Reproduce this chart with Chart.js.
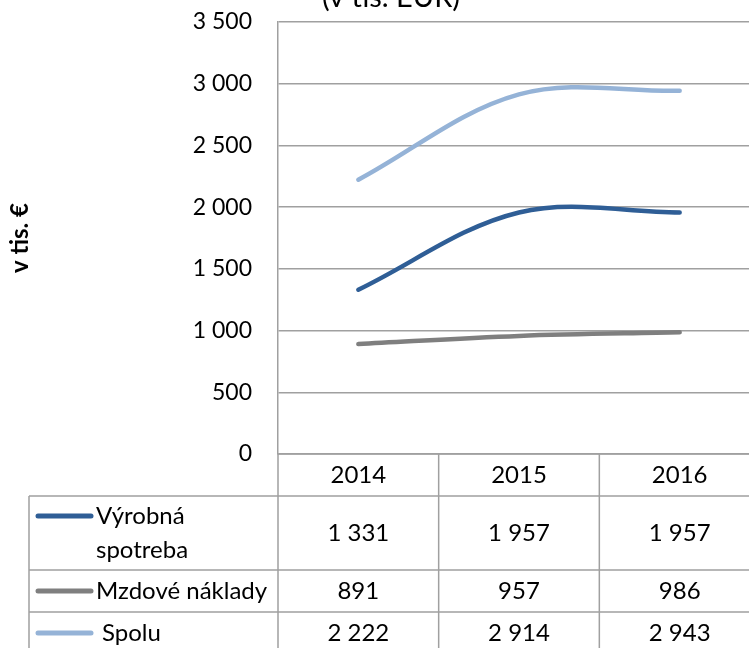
<!DOCTYPE html>
<html>
<head>
<meta charset="utf-8">
<script src="https://cdn.jsdelivr.net/npm/chart.js@4/dist/chart.umd.min.js"></script>
<style>
  body { margin: 0; overflow: hidden; background: #fff; }
  #wrap { position: absolute; left: 0; top: 0; width: 780px; height: 648px; }
</style>
</head>
<body>
<div id="wrap"><canvas id="chart" width="780" height="648"></canvas></div>
<script>
'use strict';
let years = ['2014', '2015', '2016'];
let vyrobnaSpotreba = [1331, 1957, 1957];
let mzdoveNaklady = [891, 957, 986];
let spolu = [2222, 2914, 2943];
let seriesNames = [['Výrobná', 'spotreba'], ['Mzdové náklady'], ['Spolu']];
let seriesColors = ['#2F5E96', '#7F7F7F', '#95B3D7'];
let yTicks = [0, 500, 1000, 1500, 2000, 2500, 3000, 3500];

let font = 'Lato';
let lineGray = '#a0a0a0';

function fmt(n) {
    return String(n).replace(/\B(?=(\d{3})+(?!\d))/g, ' ');
}

// title is cut off at the top of the picture
let topTitle = {
    id: 'topTitle',
    afterDraw(chart) {
        let ctx = chart.ctx;
        ctx.save();
        ctx.fillStyle = '#000';
        ctx.font = '29px ' + font;
        ctx.textAlign = 'center';
        ctx.textBaseline = 'alphabetic';
        ctx.fillText('(v tis. EUR)', 391, 7);
        ctx.restore();
    }
};

// data table under the plot
let dataTable = {
    id: 'dataTable',
    afterDraw(chart) {
        let ctx = chart.ctx;
        let area = chart.chartArea;
        let x = chart.scales.x;
        let half = (area.right - area.left) / years.length / 2;
        let all = [vyrobnaSpotreba, mzdoveNaklady, spolu];
        let rowH = [42, 74, 42, 42];
        let tableLeft = 29;
        let top = area.bottom;
        let rows = [top];
        for (let i = 0; i < rowH.length; i++) rows.push(rows[i] + rowH[i]);

        ctx.save();
        ctx.strokeStyle = lineGray;
        ctx.lineWidth = 1.5;
        ctx.beginPath();
        ctx.moveTo(area.left, rows[0]); ctx.lineTo(area.right, rows[0]);
        for (let r = 1; r < rows.length; r++) {
            ctx.moveTo(tableLeft, rows[r]); ctx.lineTo(area.right, rows[r]);
        }
        ctx.moveTo(tableLeft, rows[1]); ctx.lineTo(tableLeft, rows[4]);
        for (let i = 0; i <= years.length; i++) {
            let px = x.getPixelForValue(0) - half + i * half * 2;
            ctx.moveTo(px, rows[0]); ctx.lineTo(px, rows[4]);
        }
        ctx.stroke();

        ctx.fillStyle = '#000';
        ctx.font = '24px ' + font;
        ctx.textAlign = 'center';
        ctx.textBaseline = 'middle';
        for (let i = 0; i < years.length; i++) {
            let cx = x.getPixelForValue(i);
            ctx.fillText(years[i], cx, (rows[0] + rows[1]) / 2);
            for (let s = 0; s < all.length; s++) {
                ctx.fillText(fmt(all[s][i]), cx, (rows[s + 1] + rows[s + 2]) / 2);
            }
        }

        ctx.textAlign = 'left';
        for (let s = 0; s < all.length; s++) {
            let names = seriesNames[s];
            let midY = (rows[s + 1] + rows[s + 2]) / 2;
            let firstY = names.length > 1 ? midY - 17 : midY;
            ctx.strokeStyle = seriesColors[s];
            ctx.lineWidth = 5;
            ctx.lineCap = 'round';
            ctx.beginPath();
            ctx.moveTo(38, firstY); ctx.lineTo(91, firstY);
            ctx.stroke();
            for (let k = 0; k < names.length; k++) {
                let tx = s === 2 ? 102 : 96;
                ctx.fillText(names[k], tx, firstY + k * 34);
            }
        }
        ctx.restore();
    }
};

let datasets = [vyrobnaSpotreba, mzdoveNaklady, spolu].map(function (d, i) {
    return {
        label: seriesNames[i].join(' '),
        data: d,
        borderColor: seriesColors[i],
        backgroundColor: seriesColors[i],
        borderWidth: 4.5,
        borderCapStyle: 'round',
        pointRadius: 0,
        tension: 0.35,
        fill: false
    };
});

new Chart(document.getElementById('chart'), {
    type: 'line',
    data: { labels: years, datasets: datasets },
    options: {
        responsive: false,
        animation: false,
        layout: { autoPadding: false, padding: { left: 0, right: 20, top: 22, bottom: 194 } },
        plugins: { legend: { display: false }, tooltip: { enabled: false } },
        scales: {
            x: { display: false, offset: true },
            y: {
                min: 0,
                max: 3500,
                afterFit: function (scale) {
                    scale.width = 278;
                    scale.paddingTop = 0;
                    scale.paddingBottom = 0;
                },
                afterBuildTicks: function (scale) {
                    scale.ticks = yTicks.map(function (v) { return { value: v }; });
                },
                grid: { color: lineGray, lineWidth: 1.5, drawTicks: false },
                border: { display: true, color: lineGray, width: 1.5 },
                ticks: {
                    padding: 26,
                    color: '#000',
                    font: { family: font, size: 23 },
                    callback: function (v) { return fmt(v); }
                },
                title: {
                    display: true,
                    text: 'v tis. €',
                    color: '#000',
                    font: { family: font, size: 24, weight: 'bold' },
                    padding: { top: 6, bottom: 0 }
                }
            }
        }
    },
    plugins: [topTitle, dataTable]
});
</script>
</body>
</html>
